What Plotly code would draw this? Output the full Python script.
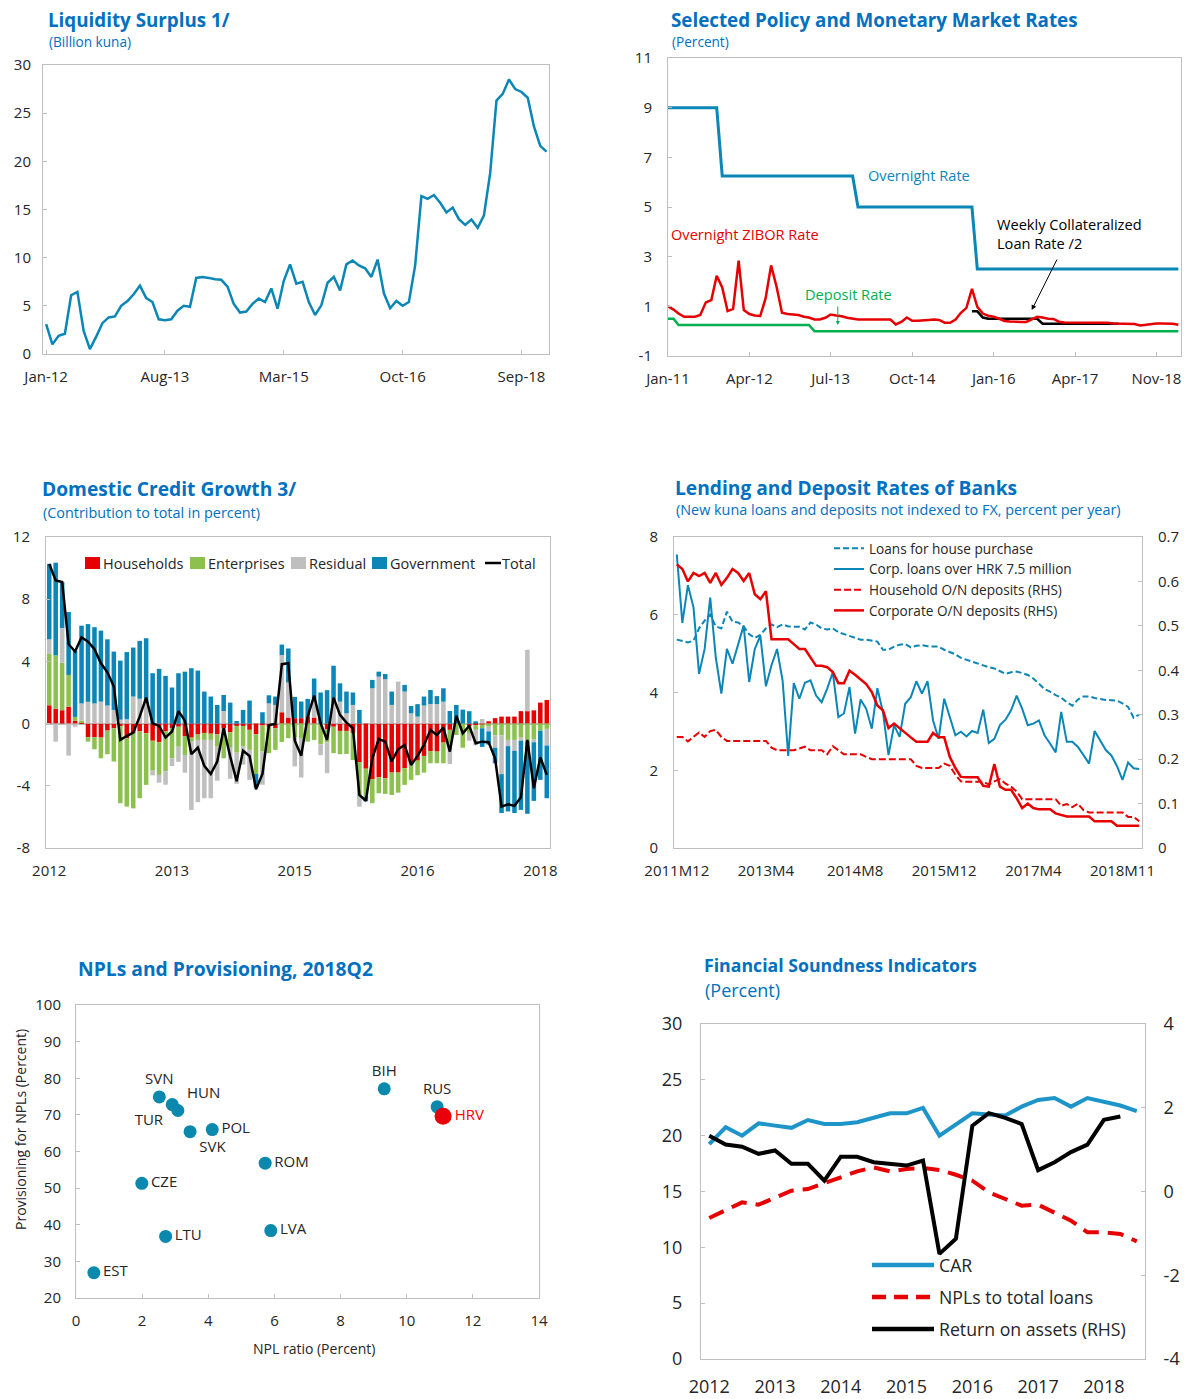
import plotly.graph_objects as go
import pandas as pd

# page body has an 8px margin: figure is drawn so reference pixel (p) maps onto the page exactly
OFF = 8
FW, FH = 1177, 1391
def fx(p): return (p - OFF) / FW
def fy(p): return 1 - (p - OFF) / FH

FONT = "Open Sans"
TXT = "#262626"
BLUE_T = "#0070C0"
AXC = "#BFBFBF"

# ---------------- Panel 1: Liquidity surplus ----------------
liq_months = pd.date_range("2012-01-01", periods=81, freq="MS").strftime("%b-%y").tolist()
liq_values = [3.1, 1.0, 1.9, 2.1, 6.1, 6.45, 2.4, 0.5, 1.8, 3.2, 3.8, 3.9, 5.0, 5.5, 6.2, 7.1,
              5.8, 5.4, 3.6, 3.5, 3.6, 4.5, 5.0, 4.9, 7.9, 8.0, 7.9, 7.75, 7.7, 7.0, 5.2, 4.3,
              4.4, 5.2, 5.75, 5.4, 6.8, 4.7, 7.6, 9.3, 7.3, 7.5, 5.4, 4.05, 5.05, 7.4, 8.0, 6.6,
              9.3, 9.7, 9.2, 8.9, 8.0, 9.8, 6.3, 4.75, 5.5, 5.0, 5.4, 9.2, 16.4, 16.1, 16.5, 15.7,
              14.7, 15.2, 14.0, 13.4, 13.95, 13.1, 14.4, 18.8, 26.3, 27.0, 28.5, 27.5, 27.2, 26.6,
              23.6, 21.6, 21.0]
liq_tick_pos = ["Jan-12", "Aug-13", "Mar-15", "Oct-16", "May-18"]
liq_tick_text = ["Jan-12", "Aug-13", "Mar-15", "Oct-16", "Sep-18"]

# ---------------- Panel 2: Policy rates ----------------
pol_months = pd.date_range("2011-01-01", periods=95, freq="MS").strftime("%Y-%m-%d").tolist()
overnight_dates = ["2011-01-01", "2011-10-01", "2011-11-01", "2013-11-01", "2013-12-01",
                   "2015-09-01", "2015-10-01", "2018-11-01"]
overnight_vals = [9.0, 9.0, 6.25, 6.25, 5.0, 5.0, 2.5, 2.5]
deposit_dates = ["2011-01-01", "2011-02-01", "2011-03-01", "2013-03-01", "2013-04-01", "2018-11-01"]
deposit_vals = [0.5, 0.5, 0.25, 0.25, 0.0, 0.0]
zibor_vals = [1.0, 0.87, 0.71, 0.58, 0.58, 0.58, 0.65, 1.16, 1.25, 2.23,
              1.76, 0.81, 0.9, 2.84, 0.85, 0.69, 0.63, 0.61, 1.32, 2.65,
              1.78, 0.74, 0.69, 0.66, 0.65, 0.58, 0.55, 0.47, 0.47, 0.54,
              0.67, 0.63, 0.6, 0.54, 0.5, 0.47, 0.47, 0.47, 0.47, 0.47,
              0.47, 0.47, 0.27, 0.37, 0.55, 0.42, 0.42, 0.42, 0.45, 0.47,
              0.45, 0.34, 0.34, 0.47, 0.74, 0.94, 1.7, 0.98, 0.71, 0.62,
              0.58, 0.5, 0.41, 0.39, 0.37, 0.37, 0.37, 0.47, 0.58, 0.55,
              0.5, 0.49, 0.38, 0.35, 0.35, 0.34, 0.34, 0.34, 0.34, 0.34,
              0.34, 0.34, 0.31, 0.31, 0.29, 0.29, 0.29, 0.23, 0.26, 0.29,
              0.31, 0.31, 0.31, 0.3, 0.26]
weekly_months = pol_months[56:84]
weekly_vals = [0.8, 0.8, 0.55, 0.5, 0.5, 0.5, 0.5, 0.5, 0.5, 0.5, 0.5, 0.5, 0.5,
               0.3, 0.3, 0.3, 0.3, 0.3, 0.3, 0.3, 0.3, 0.3, 0.3, 0.3, 0.3, 0.3, 0.3, 0.3]
pol_tick_pos = ["2011-01-01", "2012-04-01", "2013-07-01", "2014-10-01", "2016-01-01",
                "2017-04-01", "2018-07-01"]
pol_tick_text = ["Jan-11", "Apr-12", "Jul-13", "Oct-14", "Jan-16", "Apr-17", "Nov-18"]
pol_ytick_vals = [-1, 1, 3, 5, 7, 9, 11]
pol_ytick_text = ["-1", "1", "3", "5", "7", "9", "11"]

# ---------------- Panel 3: Domestic credit growth ----------------
cr_months = pd.date_range("2012-01-01", periods=78, freq="MS").strftime("%Y-%m").tolist()
cr_households = [1.18, 0.96, 0.86, 1.09, 0.17, 0.10, -0.88, -0.88, -0.90, -0.45,
                 -0.30, -0.15, -0.94, -0.60, -0.50, -0.62, -1.10, -1.20, -0.50, -0.30,
                 -0.20, -0.80, -0.90, -0.70, -0.60, -0.65, -0.69, -0.30, -0.55, -0.15,
                 -0.15, -0.40, -0.69, -0.12, -0.20, -0.30, 0.73, 0.39, 0.35, 0.35,
                 0.45, 0.39, 0.00, -0.35, -0.20, -0.47, -0.47, -0.60, -2.47, -2.90,
                 -3.58, -3.45, -3.52, -3.15, -3.15, -2.87, -2.55, -2.38, -2.08, -1.76,
                 -1.80, -1.22, -0.40, 0.00, 0.00, -0.15, -0.10, -0.05, 0.15, 0.35,
                 0.45, 0.45, 0.45, 0.80, 0.80, 0.85, 1.35, 1.52]
cr_enterprises = [3.30, 3.43, 3.06, 2.04, 0.26, 0.10, -0.28, -0.77, -1.33, -1.52,
                  -2.14, -4.97, -4.40, -4.85, -4.30, -3.32, -1.93, -2.10, -2.57, -1.93,
                  -1.29, -1.22, -0.26, -0.35, -0.45, -0.40, -0.75, -1.93, -1.00, -1.72,
                  -1.33, -1.29, -2.55, -1.67, -1.70, -1.39, -1.18, -0.94, -0.90, -0.97,
                  -1.16, -1.05, -1.33, -0.86, -1.70, -1.50, -1.48, -1.74, -2.23, -1.80,
                  -1.54, -1.03, -1.00, -1.44, -1.29, -1.07, -1.07, -0.94, -1.07, -0.79,
                  -0.75, -1.33, -0.90, -0.73, -1.55, -0.50, -0.30, -0.25, -0.20, -0.75,
                  -0.75, -1.05, -1.05, -0.90, -1.10, -1.00, -0.47, -0.34]
cr_residual = [0.94, -1.16, 2.23, -2.06, -0.20, 1.10, 1.40, 1.30, 1.41, 1.16,
               0.88, 0.25, 0.28, 1.74, 1.60, 1.35, -0.30, -0.50, -0.86, -0.50,
               -0.97, -1.14, -4.40, -4.00, -3.75, -3.75, -2.23, 0.81, -2.00, -2.00,
               -1.15, -1.93, 0.00, -2.14, 1.30, 1.20, 3.68, 2.25, -1.85, -2.50,
               0.00, 1.18, -0.70, -1.98, 1.35, 1.41, 0.66, 1.20, -0.64, 0.00,
               2.27, 3.02, 2.85, 1.20, 2.70, 2.06, 0.66, 0.45, 1.16, 1.26,
               1.26, 1.41, -1.30, 0.00, 0.00, -0.45, -1.00, 0.30, -0.30, -0.80,
               -2.50, -0.40, -0.70, -0.20, 3.95, -0.20, 0.00, -1.07]
cr_government = [4.85, 5.96, 2.94, 4.05, 4.27, 5.00, 5.00, 4.90, 4.57, 4.26,
                 3.75, 3.80, 4.32, 3.15, 3.72, 4.14, 3.24, 3.52, 3.07, 2.32,
                 3.24, 3.34, 3.56, 3.41, 2.06, 1.74, 1.20, 1.03, 1.35, 0.17,
                 0.88, 1.48, -0.86, 0.73, 0.52, 0.54, 0.67, 2.19, 1.37, 1.07,
                 1.14, 1.33, 2.00, 2.15, 2.37, 1.18, 1.40, 0.80, 0.88, -0.30,
                 0.54, 0.32, 0.34, 0.86, 0.00, 0.43, 0.47, 0.80, 0.58, 0.90,
                 0.51, 0.86, 0.81, 1.20, 0.90, 0.80, 0.15, -1.20, -0.85, -1.00,
                 -2.50, -4.20, -4.00, -4.45, -4.70, -3.77, -3.15, -3.39]
cr_total = [10.27, 9.2, 9.1, 5.1, 4.63, 5.55, 5.27, 4.78, 3.88, 3.3,
            2.38, -1.05, -0.8, -0.58, 0.45, 1.67, 0.02, -0.15, -0.9, -0.51,
            0.8, 0.19, -1.97, -1.54, -2.72, -3.24, -2.44, -0.3, -2.1, -3.7,
            -1.74, -2.08, -4.22, -3.24, -0.09, -0.02, 3.82, 3.88, -1.1, -2.06,
            0.45, 1.8, 0.02, -1.05, 1.67, 0.56, 0.06, -0.3, -4.59, -4.97,
            -2.23, -0.99, -1.16, -2.44, -1.65, -1.37, -2.66, -2.08, -1.37, -0.41,
            -0.73, -0.26, -1.8, 0.51, -0.62, -0.15, -1.26, -1.16, -1.2, -2.23,
            -5.34, -5.19, -5.29, -4.74, -1.05, -4.16, -2.16, -3.3]
cr_tick_pos = [cr_months[i] for i in (0, 19, 38, 57, 76)]
cr_tick_text = ["2012", "2013", "2015", "2016", "2018"]
cr_ytick_vals = [-8, -4, 0, 4, 8, 12]
cr_ytick_text = ["-8", "-4", "0", "4", "8", "12"]

# ---------------- Panel 4: Lending and deposit rates ----------------
ld_months = [f"{d.year}M{d.month}" for d in pd.date_range("2011-12-01", periods=84, freq="MS")]
ld_house = [5.36, 5.33, 5.29, 5.33, 5.65, 5.85, 6.0, 5.7, 5.65, 6.08,
            5.82, 5.8, 5.7, 5.5, 5.4, 5.48, 5.65, 5.75, 5.68, 5.75,
            5.7, 5.69, 5.69, 5.62, 5.8, 5.75, 5.65, 5.62, 5.65, 5.55,
            5.5, 5.45, 5.4, 5.36, 5.36, 5.34, 5.31, 5.1, 5.1, 5.18,
            5.23, 5.25, 5.16, 5.2, 5.22, 5.19, 5.19, 5.18, 5.1, 5.04,
            4.98, 4.89, 4.84, 4.8, 4.74, 4.69, 4.65, 4.62, 4.55, 4.48,
            4.52, 4.54, 4.5, 4.45, 4.36, 4.22, 4.09, 4.02, 3.93, 3.87,
            3.75, 3.66, 3.82, 3.9, 3.9, 3.86, 3.83, 3.81, 3.8, 3.79,
            3.72, 3.63, 3.35, 3.43]
ld_corp = [7.55, 5.79, 6.76, 6.19, 4.48, 5.12, 6.44, 4.9, 3.97, 5.12,
           4.74, 5.2, 5.72, 4.27, 5.12, 5.46, 4.16, 4.7, 5.12, 4.3,
           2.37, 4.24, 3.84, 4.25, 4.31, 3.92, 3.75, 4.1, 4.52, 3.37,
           3.46, 4.14, 2.94, 3.82, 3.58, 3.07, 4.11, 3.5, 2.39, 3.16,
           2.86, 3.71, 3.88, 4.29, 3.97, 4.29, 3.28, 2.81, 3.84, 3.37,
           2.9, 2.99, 2.87, 3.01, 2.96, 3.56, 2.7, 2.81, 3.16, 3.3,
           3.54, 3.92, 3.58, 3.16, 3.2, 3.28, 2.9, 2.69, 2.46, 3.5,
           2.73, 2.73, 2.6, 2.39, 2.17, 3.01, 2.77, 2.52, 2.38, 2.11,
           1.75, 2.2, 2.05, 2.03]
ld_hh_dep = [0.25, 0.25, 0.24, 0.25, 0.26, 0.25, 0.263, 0.266, 0.25, 0.241,
             0.241, 0.241, 0.241, 0.241, 0.241, 0.241, 0.241, 0.226, 0.22, 0.22,
             0.22, 0.22, 0.224, 0.228, 0.22, 0.22, 0.22, 0.211, 0.229, 0.22,
             0.211, 0.211, 0.211, 0.211, 0.205, 0.2, 0.2, 0.2, 0.2, 0.2,
             0.2, 0.2, 0.2, 0.185, 0.18, 0.18, 0.18, 0.18, 0.19, 0.185,
             0.165, 0.15, 0.149, 0.149, 0.149, 0.149, 0.143, 0.15, 0.155, 0.145,
             0.138, 0.127, 0.11, 0.11, 0.11, 0.11, 0.11, 0.11, 0.11, 0.095,
             0.099, 0.092, 0.1, 0.085, 0.08, 0.08, 0.08, 0.08, 0.08, 0.08,
             0.08, 0.07, 0.07, 0.06]
ld_corp_dep = [0.638, 0.628, 0.6, 0.619, 0.612, 0.619, 0.597, 0.619, 0.592, 0.608,
               0.628, 0.619, 0.601, 0.619, 0.571, 0.56, 0.578, 0.47, 0.47, 0.47,
               0.47, 0.459, 0.448, 0.448, 0.429, 0.41, 0.41, 0.407, 0.396, 0.371,
               0.371, 0.399, 0.39, 0.38, 0.369, 0.351, 0.321, 0.31, 0.27, 0.28,
               0.269, 0.258, 0.249, 0.239, 0.239, 0.239, 0.259, 0.249, 0.249, 0.205,
               0.18, 0.16, 0.159, 0.159, 0.159, 0.14, 0.138, 0.189, 0.138, 0.131,
               0.131, 0.112, 0.09, 0.1, 0.09, 0.087, 0.087, 0.087, 0.078, 0.075,
               0.071, 0.071, 0.071, 0.071, 0.071, 0.06, 0.06, 0.06, 0.06, 0.05,
               0.05, 0.05, 0.05, 0.05]
ld_tick_pos = [ld_months[i] for i in (0, 16, 32, 48, 64, 80)]
ld_tick_text = ["2011M12", "2013M4", "2014M8", "2015M12", "2017M4", "2018M11"]

# ---------------- Panel 5: NPLs and provisioning ----------------
npl_countries = ["EST", "CZE", "LTU", "SVN", "TUR", "HUN", "SVK", "POL", "ROM", "LVA", "BIH", "RUS"]
npl_ratio = [0.54, 1.99, 2.71, 2.52, 2.91, 3.08, 3.45, 4.12, 5.72, 5.89, 9.32, 10.92]
npl_prov = [26.9, 51.3, 36.8, 74.9, 72.8, 71.2, 65.4, 66.0, 56.8, 38.4, 77.1, 72.2]
npl_textpos = ["middle right", "middle right", "middle right", "top center", "bottom left",
               "top right", "bottom right", "middle right", "middle right", "middle right",
               "top center", "top center"]
hrv_ratio = [11.1]
hrv_prov = [69.6]

# ---------------- Panel 6: Financial soundness indicators ----------------
fsi_quarters = [f"{y}Q{q}" for y in range(2012, 2019) for q in range(1, 5)][:27]
fsi_car = [19.25, 20.75, 20.0, 21.1, 20.9, 20.7, 21.4, 21.04, 21.04, 21.2, 21.6, 22.0, 22.0,
           22.48, 20.0, 21.0, 22.0, 21.9, 21.8, 22.6, 23.2, 23.37, 22.6, 23.37, 23.07, 22.7, 22.2]
fsi_npl = [12.63, 13.34, 14.03, 13.82, 14.42, 15.07, 15.22, 15.73, 16.27, 16.8, 17.16, 16.8,
           17.01, 17.1, 16.93, 16.5, 15.97, 14.93, 14.33, 13.73, 13.82, 13.13, 12.39, 11.34,
           11.34, 11.19, 10.54]
fsi_roa = [1.33, 1.12, 1.07, 0.9, 0.98, 0.66, 0.66, 0.26, 0.83, 0.83, 0.7, 0.66, 0.62, 0.74,
           -1.49, -1.13, 1.57, 1.87, 1.76, 1.61, 0.51, 0.7, 0.94, 1.12, 1.71, 1.79]
fsi_tick_pos = [f"{y}Q1" for y in range(2012, 2019)]
fsi_tick_text = [str(y) for y in range(2012, 2019)]
fsi_rtick_vals = [-4, -2, 0, 2, 4]
fsi_rtick_text = ["-4", "-2", "0", "2", "4"]

# ---------------- colours ----------------
C_BLUE = "#0B86B6"
C_RED = "#E60000"
C_GREEN = "#00B050"
C_HH = "#E60000"
C_ENT = "#8DC14F"
C_RES = "#BFBFBF"
C_GOV = "#0B86B6"
C_CAR = "#1E95C8"

fig = go.Figure()

# Panel 1
fig.add_trace(go.Scatter(x=liq_months, y=liq_values, mode="lines", line=dict(color=C_BLUE, width=2.5),
                         xaxis="x", yaxis="y", showlegend=False))

# Panel 2
fig.add_trace(go.Scatter(x=overnight_dates, y=overnight_vals, mode="lines", line=dict(color=C_BLUE, width=3),
                         xaxis="x2", yaxis="y2", showlegend=False))
fig.add_trace(go.Scatter(x=deposit_dates, y=deposit_vals, mode="lines", line=dict(color=C_GREEN, width=2.5),
                         xaxis="x2", yaxis="y2", showlegend=False))
fig.add_trace(go.Scatter(x=weekly_months, y=weekly_vals, mode="lines", line=dict(color="black", width=2.5),
                         xaxis="x2", yaxis="y2", showlegend=False))
fig.add_trace(go.Scatter(x=pol_months, y=zibor_vals, mode="lines", line=dict(color=C_RED, width=2.5),
                         xaxis="x2", yaxis="y2", showlegend=False))

# Panel 3
for name, vals, col in [("Households", cr_households, C_HH), ("Enterprises", cr_enterprises, C_ENT),
                        ("Residual", cr_residual, C_RES), ("Government", cr_government, C_GOV)]:
    fig.add_trace(go.Bar(x=cr_months, y=vals, name=name, marker=dict(color=col, line=dict(width=0)),
                         xaxis="x3", yaxis="y3", showlegend=False))
fig.add_trace(go.Scatter(x=cr_months, y=cr_total, mode="lines", name="Total",
                         line=dict(color="black", width=2.5), xaxis="x3", yaxis="y3", showlegend=False))

# Panel 4
fig.add_trace(go.Scatter(x=ld_months, y=ld_house, mode="lines", name="Loans for house purchase",
                         line=dict(color=C_BLUE, width=2, dash="6px,3px"), xaxis="x4", yaxis="y4"))
fig.add_trace(go.Scatter(x=ld_months, y=ld_corp, mode="lines", name="Corp. loans over HRK 7.5 million",
                         line=dict(color=C_BLUE, width=2), xaxis="x4", yaxis="y4"))
fig.add_trace(go.Scatter(x=ld_months, y=ld_hh_dep, mode="lines", name="Household O/N deposits (RHS)",
                         line=dict(color=C_RED, width=2, dash="7px,3px"), xaxis="x4", yaxis="y5"))
fig.add_trace(go.Scatter(x=ld_months, y=ld_corp_dep, mode="lines", name="Corporate O/N deposits (RHS)",
                         line=dict(color=C_RED, width=2.5), xaxis="x4", yaxis="y5"))

# Panel 5
fig.add_trace(go.Scatter(x=npl_ratio, y=npl_prov, mode="markers+text", text=npl_countries,
                         textposition=npl_textpos, textfont=dict(family=FONT, size=15, color=TXT),
                         marker=dict(color="#0A88AE", size=13), xaxis="x5", yaxis="y6", showlegend=False,
                         cliponaxis=False))
fig.add_trace(go.Scatter(x=hrv_ratio, y=hrv_prov, mode="markers+text", text=["HRV"],
                         textposition="middle right", textfont=dict(family=FONT, size=15, color="#FF0000"),
                         marker=dict(color="#E8000B", size=17), xaxis="x5", yaxis="y6", showlegend=False))

# Panel 6
fig.add_trace(go.Scatter(x=fsi_quarters, y=fsi_car, mode="lines", line=dict(color=C_CAR, width=4),
                         xaxis="x6", yaxis="y7", showlegend=False))
fig.add_trace(go.Scatter(x=fsi_quarters, y=fsi_npl, mode="lines", line=dict(color=C_RED, width=4, dash="16px,9px"),
                         xaxis="x6", yaxis="y7", showlegend=False))
fig.add_trace(go.Scatter(x=fsi_quarters[:len(fsi_roa)], y=fsi_roa, mode="lines", line=dict(color="black", width=4),
                         xaxis="x6", yaxis="y8", showlegend=False))

# ---------------- axes ----------------
def ax(**kw):
    base = dict(showgrid=False, zeroline=False, showline=True, linecolor=AXC, linewidth=1, mirror=True,
                ticks="inside", tickcolor=AXC, ticklen=4, automargin=False,
                tickfont=dict(family=FONT, size=15, color=TXT))
    base.update(kw)
    return base

F18 = dict(family=FONT, size=18, color=TXT)
layout_axes = dict(
    xaxis=ax(domain=[fx(43), fx(549)], anchor="y", type="category", range=[-0.5, 80.4],
             tickmode="array", tickvals=liq_tick_pos, ticktext=liq_tick_text, ticklabelstandoff=9),
    yaxis=ax(domain=[fy(354), fy(65)], anchor="x", range=[0, 30], dtick=5, ticklabelstandoff=8),
    xaxis2=ax(domain=[fx(668), fx(1181)], anchor="y2", type="date", range=["2011-01-01", "2018-11-16"],
              tickmode="array", tickvals=pol_tick_pos, ticktext=pol_tick_text, ticklabelstandoff=9),
    yaxis2=ax(domain=[fy(356), fy(58)], anchor="x2", range=[-1, 11], tickmode="array",
              tickvals=pol_ytick_vals, ticktext=pol_ytick_text, ticklabelstandoff=12),
    xaxis3=ax(domain=[fx(46), fx(550)], anchor="y3", type="category", range=[-0.5, 77.5],
              tickmode="array", tickvals=cr_tick_pos, ticktext=cr_tick_text, ticks="", ticklabelstandoff=9),
    yaxis3=ax(domain=[fy(848), fy(537)], anchor="x3", range=[-8, 12], tickmode="array",
              tickvals=cr_ytick_vals, ticktext=cr_ytick_text, ticklabelstandoff=12,
              zeroline=True, zerolinecolor=AXC, zerolinewidth=1.5),
    xaxis4=ax(domain=[fx(674), fx(1142)], anchor="y4", type="category", range=[-0.5, 83.5],
              tickmode="array", tickvals=ld_tick_pos, ticktext=ld_tick_text, ticks="", ticklabelstandoff=9),
    yaxis4=ax(domain=[fy(848), fy(537)], anchor="x4", range=[0, 8], dtick=2, ticklabelstandoff=12),
    yaxis5=ax(overlaying="y4", anchor="x4", side="right", range=[0, 0.7], dtick=0.1, mirror=False,
              ticklabelstandoff=12),
    xaxis5=ax(domain=[fx(76), fx(539)], anchor="y6", range=[0, 14], dtick=2, ticklabelstandoff=9),
    yaxis6=ax(domain=[fy(1298), fy(1005)], anchor="x5", range=[20, 100], dtick=10, ticklabelstandoff=11),
    xaxis6=ax(domain=[fx(701), fx(1145)], anchor="y7", type="category", range=[-0.5, 26.5],
              tickmode="array", tickvals=fsi_tick_pos, ticktext=fsi_tick_text, ticks="",
              tickfont=F18, ticklabelstandoff=11),
    yaxis7=ax(domain=[fy(1359), fy(1024)], anchor="x6", range=[0, 30], dtick=5,
              tickfont=F18, ticklabelstandoff=14),
    yaxis8=ax(overlaying="y7", anchor="x6", side="right", range=[-4, 4], tickmode="array",
              tickvals=fsi_rtick_vals, ticktext=fsi_rtick_text, mirror=False,
              tickfont=F18, ticklabelstandoff=14),
)

# ---------------- annotations ----------------
ann = []
def text(x, y, s, size=14, color=TXT, family=FONT, xanchor="left", bold=False, angle=0):
    ann.append(dict(x=fx(x), y=fy(y), xref="paper", yref="paper", text=(f"<b>{s}</b>" if bold else s),
                    showarrow=False, xanchor=xanchor, yanchor="middle", textangle=angle, borderpad=0,
                    font=dict(family=family, size=size, color=color)))

# titles
text(47, 20, "Liquidity Surplus 1/", 18.8, BLUE_T, bold=True)
text(48, 41.5, "(Billion kuna)", 13.6, BLUE_T)
text(670, 20, "Selected Policy and Monetary Market Rates", 18.8, BLUE_T, bold=True)
text(671, 41, "(Percent)", 13.6, BLUE_T)
text(41, 489, "Domestic Credit Growth 3/", 19.2, BLUE_T, bold=True)
text(42, 512, "(Contribution to total in percent)", 14.4, BLUE_T)
text(674, 487, "Lending and Deposit Rates of Banks", 19.2, BLUE_T, bold=True)
text(675, 510, "(New kuna loans and deposits not indexed to FX, percent per year)", 14.4, BLUE_T)
text(77, 968, "NPLs and Provisioning, 2018Q2", 19.3, BLUE_T, bold=True)
text(703, 965, "Financial Soundness Indicators", 17.7, BLUE_T, bold=True)
text(704, 990, "(Percent)", 18, BLUE_T)

# panel 2 labels
text(919, 175, "Overnight Rate", 14.6, C_BLUE, xanchor="center")
text(670, 234, "Overnight ZIBOR Rate", 14.6, C_RED)
text(804, 294, "Deposit Rate", 14.6, C_GREEN)
text(996, 224, "Weekly Collateralized", 14.6, "black")
text(996, 243, "Loan Rate /2", 14.6, "black")
ann.append(dict(x="2016-08-01", y=0.85, xref="x2", yref="y2", ax=26, ay=-52, showarrow=True,
                arrowhead=2, arrowsize=1, arrowwidth=1, arrowcolor="black", text=""))
ann.append(dict(x="2013-08-10", y=0.25, xref="x2", yref="y2", ax=0, ay=-20, showarrow=True,
                arrowhead=2, arrowsize=0.8, arrowwidth=1, arrowcolor=C_GREEN, text=""))

# panel 5 axis titles
text(314, 1348, "NPL ratio (Percent)", 14, TXT, xanchor="center")
ann.append(dict(x=fx(20), y=fy(1130), xref="paper", yref="paper", text="Provisioning for NPLs (Percent)",
                showarrow=False, textangle=-90, xanchor="center", yanchor="middle",
                font=dict(family=FONT, size=14, color=TXT)))

# ---------------- manual legends (panel 3 and panel 6) ----------------
shapes = []
leg3 = [(85, C_HH, "Households"), (190, C_ENT, "Enterprises"), (291, C_RES, "Residual"), (372, C_GOV, "Government")]
for x0, col, lab in leg3:
    shapes.append(dict(type="rect", xref="paper", yref="paper", x0=fx(x0), x1=fx(x0 + 15), y0=fy(569),
                       y1=fy(557), fillcolor=col, line=dict(width=0)))
    text(x0 + 17, 563, lab, 14.5)
shapes.append(dict(type="line", xref="paper", yref="paper", x0=fx(485), x1=fx(501), y0=fy(563), y1=fy(563),
                   line=dict(color="black", width=2.5)))
text(501, 563, "Total", 14.5)

leg6 = [(1265, C_CAR, "solid", "CAR"), (1297, C_RED, "14px,8px", "NPLs to total loans"),
        (1329, "black", "solid", "Return on assets (RHS)")]
for yy, col, dash, lab in leg6:
    shapes.append(dict(type="line", xref="paper", yref="paper", x0=fx(872), x1=fx(934), y0=fy(yy), y1=fy(yy),
                       line=dict(color=col, width=4.5, dash=dash)))
    text(938, yy, lab, 17.7)

fig.update_layout(
    width=FW, height=FH, margin=dict(l=0, r=0, t=0, b=0),
    paper_bgcolor="white", plot_bgcolor="white",
    barmode="relative", bargap=0.3,
    font=dict(family=FONT, size=14, color=TXT),
    annotations=ann, shapes=shapes,
    legend=dict(x=fx(829), y=fy(533), xanchor="left", yanchor="top", bgcolor="rgba(0,0,0,0)",
                font=dict(family=FONT, size=13.6, color=TXT), tracegroupgap=0, itemwidth=30),
    **layout_axes,
)

fig.write_html("out.html")
